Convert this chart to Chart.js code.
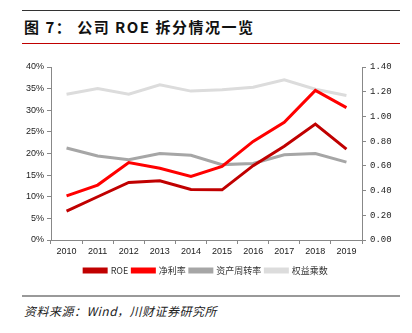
<!DOCTYPE html>
<html>
<head>
<meta charset="utf-8">
<script src="https://cdn.jsdelivr.net/npm/chart.js@4.4.0/dist/chart.umd.min.js"></script>
<style>
  html, body { margin: 0; padding: 0; background: #fff; }
  body { width: 412px; height: 333px; position: relative; overflow: hidden; font-family: "Noto Sans CJK SC", sans-serif; }
  .rule-top { position: absolute; left: 22px; top: 10px; width: 378px; height: 1px; background: #333; }
  .title { position: absolute; left: 24px; top: 16px; font-size: 15px; font-weight: bold; color: #111; letter-spacing: 1.5px; white-space: nowrap; }
  .rule-red { position: absolute; left: 22px; top: 43px; width: 378px; height: 1px; background: #c00000; }
  .rule-bottom { position: absolute; left: 22px; top: 295px; width: 378px; height: 2px; background: #999; }
  .source { position: absolute; left: 24px; top: 302px; font-size: 12px; font-style: italic; color: #222; letter-spacing: 0.5px; white-space: nowrap; }
  #wrap { position: absolute; left: 0; top: 55px; width: 412px; height: 230px; }
</style>
</head>
<body>
<div class="rule-top"></div>
<div class="title">图 7： 公司 ROE 拆分情况一览</div>
<div class="rule-red"></div>
<div id="wrap"><canvas id="chart"></canvas></div>
<div class="rule-bottom"></div>
<div class="source">资料来源：Wind，川财证券研究所</div>
<script>
// 年份
const years = ["2010", "2011", "2012", "2013", "2014", "2015", "2016", "2017", "2018", "2019"]

// 左轴 (%)
const roe = [6.7, 10.0, 13.3, 13.7, 11.7, 11.6, 17.2, 21.7, 26.8, 21.0]
const netMargin = [10.2, 12.7, 17.9, 16.6, 14.7, 17.0, 22.8, 27.2, 34.6, 30.6]

// 右轴
const assetTurnover = [0.745, 0.68, 0.65, 0.70, 0.685, 0.61, 0.62, 0.69, 0.70, 0.63]
const equityMultiplier = [1.18, 1.226, 1.18, 1.256, 1.205, 1.215, 1.237, 1.297, 1.22, 1.17]

const axisColor = "#888"

function lineSet(label, data, color, axis) {
  return {
    label: label,
    data: data,
    borderColor: color,
    backgroundColor: color,
    borderWidth: 3,
    pointRadius: 0,
    tension: 0,
    yAxisID: axis,
  }
}

const ctx = document.getElementById("chart").getContext("2d")
new Chart(ctx, {
  type: "line",
  data: {
    labels: years,
    datasets: [
      lineSet("ROE", roe, "#c00000", "y"),
      lineSet("净利率", netMargin, "#ff0000", "y"),
      lineSet("资产周转率", assetTurnover, "#a6a6a6", "y1"),
      lineSet("权益乘数", equityMultiplier, "#dcdcdc", "y1"),
    ],
  },
  options: {
    responsive: true,
    maintainAspectRatio: false,
    animation: false,
    layout: { padding: { top: 12, left: 0, right: 0, bottom: 0 } },
    plugins: {
      tooltip: { enabled: false },
      legend: {
        position: "bottom",
        labels: {
          boxWidth: 22,
          boxHeight: 3,
          padding: 4,
          color: "#333",
          font: { size: 9, family: "'Noto Sans CJK SC', sans-serif" },
        },
      },
    },
    scales: {
      x: {
        offset: true,
        grid: { offset: true, drawOnChartArea: false, tickLength: 4, color: axisColor },
        border: { color: axisColor },
        ticks: { color: "#222", font: { size: 9, family: "'Liberation Sans', Arial" }, padding: 2, maxRotation: 0 },
        afterFit: (scale) => { scale.height = 22 },
      },
      y: {
        position: "left",
        min: 0,
        max: 40,
        grid: { drawOnChartArea: false, tickLength: 4, color: axisColor },
        border: { color: axisColor },
        ticks: {
          stepSize: 5,
          color: "#222",
          padding: 3,
          font: { size: 9, family: "'Liberation Sans', Arial" },
          callback: (v) => v + "%",
        },
        afterFit: (scale) => { scale.width = 51 },
      },
      y1: {
        position: "right",
        min: 0,
        max: 1.4,
        grid: { drawOnChartArea: false, tickLength: 4, color: axisColor },
        border: { color: axisColor },
        ticks: {
          stepSize: 0.2,
          color: "#222",
          padding: 4,
          font: { size: 9, family: "'Liberation Mono', monospace" },
          callback: (v) => v.toFixed(2),
        },
        afterFit: (scale) => { scale.width = 50 },
      },
    },
  },
})
</script>
</body>
</html>
